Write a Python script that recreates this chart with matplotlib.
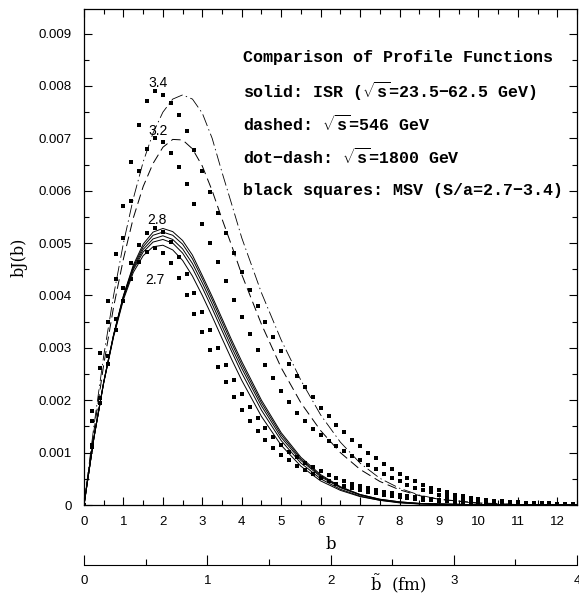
import numpy as np
import matplotlib
matplotlib.use('Agg')
import matplotlib.pyplot as plt
from matplotlib.ticker import MultipleLocator, FuncFormatter

plt.rcParams['lines.scale_dashes'] = False
plt.rcParams['mathtext.fontset'] = 'custom'
plt.rcParams['mathtext.rm'] = 'Liberation Mono:bold'
plt.rcParams['mathtext.it'] = 'Liberation Mono:italic:bold'

# b grid for the line curves (ISR, 546, 1800)
b_line = [0, 0.25, 0.5, 0.75, 1.0, 1.25, 1.5, 1.75, 2.0, 2.25, 2.5, 2.75, 3.0, 3.25, 3.5,
          3.75, 4.0, 4.5, 5.0, 5.5, 6.0, 6.5, 7.0, 7.5, 8.0, 8.5, 9.0, 10.0, 11.0, 12.5]

# solid: ISR, five energies
isr_1 = [0, 0.00128, 0.00235, 0.00325, 0.00400, 0.00458, 0.00498, 0.00521, 0.00528, 0.00522,
         0.00505, 0.00477, 0.00438, 0.00398, 0.00356, 0.00314, 0.00274, 0.00200, 0.00138, 0.00091,
         0.00058, 0.00035, 0.00020, 0.00011, 0.00006, 0.00003, 0.00002, 0.000005, 0.000001, 0]
isr_2 = [0, 0.00128, 0.00235, 0.00325, 0.00399, 0.00455, 0.00493, 0.00515, 0.00521, 0.00515,
         0.00498, 0.00470, 0.00432, 0.00392, 0.00350, 0.00308, 0.00268, 0.00195, 0.00134, 0.00088,
         0.00056, 0.00034, 0.00020, 0.00011, 0.00006, 0.00003, 0.00002, 0.000005, 0.000001, 0]
isr_3 = [0, 0.00128, 0.00234, 0.00324, 0.00397, 0.00452, 0.00488, 0.00508, 0.00514, 0.00507,
         0.00489, 0.00461, 0.00424, 0.00384, 0.00342, 0.00300, 0.00261, 0.00189, 0.00129, 0.00085,
         0.00054, 0.00033, 0.00019, 0.00010, 0.00005, 0.00003, 0.00002, 0.000004, 0.000001, 0]
isr_4 = [0, 0.00128, 0.00234, 0.00323, 0.00395, 0.00449, 0.00483, 0.00502, 0.00507, 0.00500,
         0.00481, 0.00452, 0.00415, 0.00375, 0.00333, 0.00292, 0.00252, 0.00181, 0.00123, 0.00080,
         0.00050, 0.00030, 0.00017, 0.00009, 0.00005, 0.00002, 0.00001, 0.000003, 0.000001, 0]
isr_5 = [0, 0.00127, 0.00233, 0.00321, 0.00392, 0.00444, 0.00476, 0.00493, 0.00496, 0.00487,
         0.00467, 0.00437, 0.00400, 0.00360, 0.00318, 0.00277, 0.00238, 0.00169, 0.00114, 0.00074,
         0.00046, 0.00028, 0.00016, 0.00009, 0.00004, 0.00002, 0.00001, 0.000003, 0.000001, 0]

# dashed: sqrt(s)=546 GeV
ua_546 = [0, 0.00140, 0.00268, 0.00378, 0.00470, 0.00548, 0.00608, 0.00652, 0.00683, 0.00698,
          0.00697, 0.00680, 0.00647, 0.00600, 0.00546, 0.00494, 0.00440, 0.00345, 0.00262, 0.00195,
          0.00142, 0.00100, 0.00068, 0.00045, 0.00029, 0.00018, 0.00011, 0.00004, 0.00001, 0]

# dot-dash: sqrt(s)=1800 GeV
cdf_1800 = [0, 0.00150, 0.00285, 0.00400, 0.00500, 0.00585, 0.00655, 0.00710, 0.00750, 0.00775,
            0.00783, 0.00775, 0.00748, 0.00700, 0.00635, 0.00573, 0.00510, 0.00405, 0.00315, 0.00238,
            0.00172, 0.00120, 0.00080, 0.00051, 0.00032, 0.00019, 0.00011, 0.00003, 0.00001, 0]

# MSV squares, sampled every 0.2 in b
b_msv = np.round(np.arange(0, 12.41, 0.2), 1)

msv_34 = [0, 0.00180, 0.00290, 0.00390, 0.00480, 0.00570, 0.00655, 0.00725, 0.00772, 0.00790,
          0.00783, 0.00768, 0.00745, 0.00715, 0.00678, 0.00638, 0.00598, 0.00558, 0.00519, 0.00481,
          0.00445, 0.00411, 0.00379, 0.00349, 0.00321, 0.00294, 0.00270, 0.00247, 0.00226, 0.00206,
          0.00186, 0.00169, 0.00153, 0.00139, 0.00125, 0.00112, 0.00100, 0.00089, 0.00079, 0.00069,
          0.00060, 0.00052, 0.00045, 0.00039, 0.00033, 0.00028, 0.00024, 0.00020, 0.00017, 0.00014,
          0.00012, 0.00010, 0.00008, 0.00007, 0.00006, 0.00005, 0.00004, 0.00004, 0.00003, 0.00003,
          0.00002, 0.00002, 0.00002]
msv_32 = [0, 0.00160, 0.00262, 0.00350, 0.00432, 0.00510, 0.00580, 0.00638, 0.00680, 0.00700,
          0.00694, 0.00673, 0.00645, 0.00612, 0.00575, 0.00537, 0.00500, 0.00463, 0.00427, 0.00392,
          0.00358, 0.00326, 0.00296, 0.00268, 0.00242, 0.00218, 0.00196, 0.00176, 0.00160, 0.00146,
          0.00134, 0.00123, 0.00113, 0.00103, 0.00094, 0.00085, 0.00076, 0.00068, 0.00060, 0.00052,
          0.00045, 0.00039, 0.00033, 0.00028, 0.00024, 0.00020, 0.00017, 0.00014, 0.00012, 0.00010,
          0.00008, 0.00007, 0.00006, 0.00005, 0.00004, 0.00003, 0.00003, 0.00002, 0.00002, 0.00002,
          0.00001, 0.00001, 0.00001]
msv_28 = [0, 0.00115, 0.00205, 0.00285, 0.00355, 0.00415, 0.00462, 0.00497, 0.00520, 0.00529,
          0.00522, 0.00502, 0.00474, 0.00441, 0.00405, 0.00369, 0.00334, 0.00300, 0.00268, 0.00239,
          0.00212, 0.00188, 0.00166, 0.00147, 0.00130, 0.00115, 0.00102, 0.00091, 0.00081, 0.00072,
          0.00064, 0.00057, 0.00051, 0.00045, 0.00040, 0.00036, 0.00032, 0.00028, 0.00025, 0.00022,
          0.00019, 0.00017, 0.00015, 0.00013, 0.00011, 0.00010, 0.00009, 0.00008, 0.00007, 0.00006,
          0.00005, 0.00004, 0.00004, 0.00003, 0.00003, 0.00002, 0.00002, 0.00002, 0.00002, 0.00001,
          0.00001, 0.00001, 0.00001]
msv_27 = [0, 0.00110, 0.00195, 0.00270, 0.00335, 0.00390, 0.00432, 0.00464, 0.00484, 0.00490,
          0.00482, 0.00462, 0.00434, 0.00400, 0.00365, 0.00330, 0.00296, 0.00264, 0.00234, 0.00207,
          0.00182, 0.00160, 0.00141, 0.00124, 0.00109, 0.00096, 0.00085, 0.00075, 0.00066, 0.00059,
          0.00052, 0.00046, 0.00041, 0.00036, 0.00032, 0.00028, 0.00025, 0.00022, 0.00019, 0.00017,
          0.00015, 0.00013, 0.00012, 0.00010, 0.00009, 0.00008, 0.00007, 0.00006, 0.00005, 0.00005,
          0.00004, 0.00003, 0.00003, 0.00003, 0.00002, 0.00002, 0.00002, 0.00001, 0.00001, 0.00001,
          0.00001, 0.00001, 0.00001]

msv_labels = ['3.4', '3.2', '2.8', '2.7']
label_pos = [(1.88, 0.00806), (1.88, 0.00714), (1.85, 0.00544), (1.80, 0.00430)]

notes = ['Comparison of Profile Functions',
         r'solid: ISR ($\sqrt{\mathrm{s}}$=23.5−62.5 GeV)',
         r'dashed: $\sqrt{\mathrm{s}}$=546 GeV',
         r'dot−dash: $\sqrt{\mathrm{s}}$=1800 GeV',
         'black squares: MSV (S/a=2.7−3.4)']

W, H = 579, 596
fig = plt.figure(figsize=(W / 100, H / 100), dpi=100)
ax = fig.add_axes([84 / W, 1 - 505 / H, 493 / W, 496 / H])

for s in [isr_1, isr_2, isr_3, isr_4, isr_5]:
    ax.plot(b_line, s, color='black', lw=0.7)
ax.plot(b_line, ua_546, color='black', lw=0.7, ls=(0, (7, 3.5)))
ax.plot(b_line, cdf_1800, color='black', lw=0.6, ls=(0, (9, 2.5, 1, 2.5)))

for vals in [msv_34, msv_32, msv_28, msv_27]:
    ax.plot(b_msv, vals, ls='none', marker='s', ms=2.3, mfc='black', mec='black', mew=0)

for lab, (x, y) in zip(msv_labels, label_pos):
    ax.text(x, y, lab, ha='center', va='center', fontsize=10, family='Liberation Sans')

for i, t in enumerate(notes):
    ax.text(0.3225, 0.903 - i * 0.067, t, transform=ax.transAxes, ha='left', va='center',
            fontsize=12, family='Liberation Mono', fontweight='bold')

ax.set_xlim(0, 12.5)
ax.set_ylim(0, 0.00947)
ax.xaxis.set_major_locator(MultipleLocator(1))
ax.xaxis.set_minor_locator(MultipleLocator(0.5))
ax.yaxis.set_major_locator(MultipleLocator(0.001))
ax.yaxis.set_minor_locator(MultipleLocator(0.0005))
ax.yaxis.set_major_formatter(FuncFormatter(lambda v, p: '0' if abs(v) < 1e-9 else '%.3f' % v))
ax.tick_params(which='both', direction='in', top=True, right=True, width=0.8)
ax.tick_params(which='major', length=6)
ax.tick_params(which='minor', length=3.5)
ax.tick_params(axis='x', pad=8)
ax.tick_params(axis='y', pad=9)
for lab in ax.get_xticklabels() + ax.get_yticklabels():
    lab.set_family('Liberation Sans')
    lab.set_fontsize(9.5)
for sp in ax.spines.values():
    sp.set_linewidth(0.9)

ax.set_xlabel('b', family='DejaVu Serif', fontsize=12, labelpad=6)
ax.set_ylabel('bJ(b)', family='DejaVu Serif', fontsize=11.5, labelpad=8)

# second scale underneath: b-tilde in fm
ax2 = fig.add_axes([84 / W, 1 - 565 / H, 493 / W, 0.02])
ax2.set_xlim(0, 4)
ax2.set_ylim(0, 1)
ax2.set_yticks([])
for k in ['top', 'left', 'right']:
    ax2.spines[k].set_visible(False)
ax2.spines['bottom'].set_linewidth(0.8)
ax2.patch.set_alpha(0)
ax2.xaxis.set_major_locator(MultipleLocator(1))
ax2.xaxis.set_minor_locator(MultipleLocator(0.5))
ax2.tick_params(which='both', direction='in', width=0.8, pad=7)
ax2.tick_params(which='major', length=7)
ax2.tick_params(which='minor', length=4)
for lab in ax2.get_xticklabels():
    lab.set_family('Liberation Sans')
    lab.set_fontsize(9.5)
fig.text(398 / W, 1 - 584 / H, r'$\tilde{\mathrm{b}}$  (fm)', ha='center', va='center',
         fontsize=12, family='DejaVu Serif', math_fontfamily='dejavuserif')

fig.savefig('out.png', dpi=100)
